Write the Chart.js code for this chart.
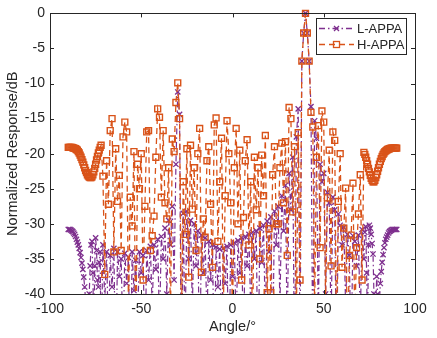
<!DOCTYPE html>
<html>
<head>
<meta charset="utf-8">
<script src="https://cdn.jsdelivr.net/npm/chart.js@4.4.1/dist/chart.umd.min.js"></script>
<style>
  html, body { margin: 0; padding: 0; background: #fff; }
  #wrap { width: 437px; height: 338px; }
</style>
</head>
<body>
<div id="wrap"><canvas id="pattern" width="437" height="338"></canvas></div>
<script>
// ********** DATA ***********
// scan angle in degrees: half degree steps near endfire, one degree in the middle
let angles = [
  -90, -89.5, -89, -88.5, -88, -87.5, -87, -86.5, -86, -85.5,
  -85, -84.5, -84, -83.5, -83, -82.5, -82, -81.5, -81, -80.5,
  -80, -79.5, -79, -78.5, -78, -77.5, -77, -76.5, -76, -75.5,
  -75, -74.5, -74, -73.5, -73, -72.5, -72,
  -71, -70, -69, -68, -67, -66, -65, -64, -63, -62, -61,
  -60, -59, -58, -57, -56, -55, -54, -53, -52, -51,
  -50, -49, -48, -47, -46, -45, -44, -43, -42, -41,
  -40, -39, -38, -37, -36, -35, -34, -33, -32, -31,
  -30, -29, -28, -27, -26, -25, -24, -23, -22, -21,
  -20, -19, -18, -17, -16, -15, -14, -13, -12, -11,
  -10, -9, -8, -7, -6, -5, -4, -3, -2, -1,
  0, 1, 2, 3, 4, 5, 6, 7, 8, 9,
  10, 11, 12, 13, 14, 15, 16, 17, 18, 19,
  20, 21, 22, 23, 24, 25, 26, 27, 28, 29,
  30, 31, 32, 33, 34, 35, 36, 37, 38, 39,
  40, 41, 42, 43, 44, 45, 46, 47, 48, 49,
  50, 51, 52, 53, 54, 55, 56, 57, 58, 59,
  60, 61, 62, 63, 64, 65, 66, 67, 68, 69,
  70, 71,
  72, 72.5, 73, 73.5, 74, 74.5, 75, 75.5, 76, 76.5,
  77, 77.5, 78, 78.5, 79, 79.5, 80, 80.5, 81, 81.5,
  82, 82.5, 83, 83.5, 84, 84.5, 85, 85.5, 86, 86.5,
  87, 87.5, 88, 88.5, 89, 89.5, 90
];

// L-APPA response (dB)
let lAppa = [
  -30.8, -30.8, -30.8, -30.9, -31.0, -31.1, -31.3, -31.5, -31.8, -32.2,
  -32.6, -33.0, -33.5, -34.1, -34.8, -35.6, -36.5, -37.6, -39.0, -41,
  -45, -49, -52, -40, -36, -33, -32.5, -37, -48, -36,
  -32, -33.8, -38, -39, -35.5, -34, -50,
  -33, -41, -34, -46, -34.5, -39, -33.5, -52, -34, -37.5, -35,
  -47, -34.2, -38.5, -34.8, -55, -34, -39.5, -35.2, -44, -34,
  -37, -34.5, -49, -33.8, -38, -33.2, -42, -33, -36.5, -32.2,
  -45, -31.8, -35, -30.6, -40, -29.5, -33, -27.5, -38, -21.5,
  -11.2, -14.4, -55, -28.5, -46, -28.2, -35, -29.5, -42, -30,
  -36, -31, -51, -31.6, -37, -32, -44, -32.5, -38, -33,
  -50, -33.3, -39, -33.6, -46, -33.5, -38.5, -33.2, -53, -33,
  -37.5, -32.7, -45, -32.4, -37, -32, -48, -31.8, -36, -31.5,
  -43, -31.2, -35, -31, -52, -30.6, -35.5, -30.2, -44, -29.6,
  -34, -29, -49, -28.2, -33, -27.5, -42, -26, -31, -24.5,
  -47, -22.8, -28, -20.5, -52, -17.6, -13.6, -48, -6.8, -2.8,
  0, -2.8, -6.8, -13.3, -50, -15.3, -17.8, -45, -21.5, -24,
  -22.8, -40, -25.5, -27, -45, -26.2, -28, -52, -28.6, -30.2,
  -33, -30.5, -42, -31.5, -34.5, -49, -31.7, -32.5, -36, -31.6,
  -44, -30.8,
  -35, -31.2, -30.4, -37, -46, -33, -30.2, -30.6, -31.5, -32.8,
  -34.3, -40, -56, -42, -37.5, -40, -45, -41, -38.5, -36.8,
  -35.5, -34.4, -33.4, -32.7, -32.2, -31.9, -31.6, -31.3, -31.1, -31.0,
  -30.9, -30.8, -30.8, -30.8, -30.8, -30.8, -30.8
];

// H-APPA response (dB)
let hAppa = [
  -19.1, -19.1, -19.1, -19.1, -19.1, -19.15, -19.2, -19.25, -19.3, -19.4,
  -19.5, -19.7, -19.9, -20.2, -20.5, -20.85, -21.2, -21.6, -22.0, -22.4,
  -22.7, -23.0, -23.2, -23.35, -23.4, -23.4, -23.3, -23.0, -22.6, -22.1,
  -21.5, -20.9, -20.4, -19.9, -19.5, -19.1, -18.8,
  -23.2, -37.2, -21, -27.2, -16.7, -15, -34, -19.3, -26.8, -23.1, -33.8,
  -17.6, -15.5, -16.9, -42, -26.2, -30.3, -19.7, -47, -21.5, -25,
  -20, -38, -27.5, -16.9, -16.7, -33.8, -31.7, -28.9, -20.5, -13.6,
  -14.8, -26.2, -16.7, -27, -29.3, -22, -44, -17.9, -19.7, -12.7,
  -9.9, -15, -45, -24, -31.5, -19.3, -37.6, -18.8, -27.9, -22,
  -33.8, -20, -16.4, -36.9, -29.3, -31.9, -21, -19, -27.2, -36.2,
  -15.9, -14.9, -32.5, -24, -17.8, -42, -26, -15.3, -20, -27,
  -44, -22, -16.4, -30, -19.5, -38, -29.1, -21, -18, -33,
  -24, -47, -20.5, -28, -22, -35, -20.2, -26, -17.4, -39.8,
  -30.7, -39.8, -23, -19, -30, -30, -22, -18.5, -27, -18.3,
  -34.5, -13.4, -15, -28.3, -19, -44, -17, -38, -6.8, -2.8,
  0, -2.8, -6.8, -14.1, -16.2, -42, -20.5, -16, -33.4, -13.9,
  -15.5, -41, -26.3, -19.5, -36, -16.9, -18.1, -46, -26.8, -20,
  -36.2, -30.6, -24.9, -50, -34.5, -31.6, -24.2, -44, -33.4, -28.6,
  -23, -38,
  -19.8, -20.1, -20.5, -21.0, -21.5, -22.1, -22.6, -23.1, -23.5, -23.8,
  -24, -24, -23.8, -23.4, -23, -22.5, -22, -21.5, -21.1, -20.7,
  -20.4, -20.1, -19.9, -19.7, -19.6, -19.5, -19.4, -19.35, -19.3, -19.25,
  -19.2, -19.2, -19.2, -19.2, -19.2, -19.2, -19.2
];

let seriesNames = ['L-APPA', 'H-APPA'];
let xTicks = [-100, -50, 0, 50, 100];
let yTicks = [-40, -35, -30, -25, -20, -15, -10, -5, 0];

// ********** STYLE ***********
const PURPLE = '#7E2F8E';
const ORANGE = '#D95319';
const AXIS = '#262626';
const FONT = "'Liberation Sans', Arial, Helvetica, sans-serif";
const L_DASH = [6, 3, 1.5, 3];
const H_DASH = [6, 4];

function toPoints(ys) {
  return angles.map((a, i) => ({ x: a, y: ys[i] }));
}

// inward ticks on all four sides plus the box, drawn over the data
const axesBox = {
  id: 'axesBox',
  afterDatasetsDraw(chart) {
    const { ctx, chartArea: a, scales } = chart;
    const len = 4;
    ctx.save();
    ctx.strokeStyle = AXIS;
    ctx.lineWidth = 1;
    ctx.beginPath();
    xTicks.forEach(v => {
      const px = Math.round(scales.x.getPixelForValue(v)) + 0.5;
      ctx.moveTo(px, a.bottom); ctx.lineTo(px, a.bottom - len);
      ctx.moveTo(px, a.top); ctx.lineTo(px, a.top + len);
    });
    yTicks.forEach(v => {
      const py = Math.round(scales.y.getPixelForValue(v)) + 0.5;
      ctx.moveTo(a.left, py); ctx.lineTo(a.left + len, py);
      ctx.moveTo(a.right, py); ctx.lineTo(a.right - len, py);
    });
    ctx.stroke();
    ctx.strokeRect(Math.round(a.left) + 0.5, Math.round(a.top) + 0.5,
      Math.round(a.right - a.left), Math.round(a.bottom - a.top));
    ctx.restore();
  }
};

// legend box in the top right corner
function drawCross(ctx, x, y, r) {
  ctx.beginPath();
  ctx.moveTo(x - r, y - r); ctx.lineTo(x + r, y + r);
  ctx.moveTo(x - r, y + r); ctx.lineTo(x + r, y - r);
  ctx.stroke();
}

const legendBox = {
  id: 'legendBox',
  afterDraw(chart) {
    const ctx = chart.ctx;
    const left = 316, top = 18, w = 90, h = 36;
    ctx.save();
    ctx.fillStyle = '#fff';
    ctx.fillRect(left, top, w, h);
    ctx.strokeStyle = AXIS;
    ctx.lineWidth = 1;
    ctx.strokeRect(left + 0.5, top + 0.5, w, h);

    const rows = [
      { y: 28.5, color: PURPLE, dash: L_DASH, mark: 'x' },
      { y: 44.5, color: ORANGE, dash: H_DASH, mark: 'sq' }
    ];
    rows.forEach((r, i) => {
      ctx.strokeStyle = r.color;
      ctx.lineWidth = 1.3;
      ctx.setLineDash(r.dash);
      ctx.beginPath();
      ctx.moveTo(319, r.y); ctx.lineTo(354, r.y);
      ctx.stroke();
      ctx.setLineDash([]);
      if (r.mark === 'x') {
        drawCross(ctx, 336.5, r.y, 2.5);
      } else {
        ctx.strokeRect(333.5, r.y - 3, 6, 6);
      }
      ctx.fillStyle = AXIS;
      ctx.font = '13px ' + FONT;
      ctx.textBaseline = 'middle';
      ctx.fillText(seriesNames[i], 357, r.y + 0.5);
    });
    ctx.restore();
  }
};

// ********** CHART ***********
let ctx = document.getElementById('pattern').getContext('2d');
let chart = new Chart(ctx, {
  type: 'line',
  data: {
    datasets: [
      {
        label: seriesNames[0],
        data: toPoints(lAppa),
        borderColor: PURPLE,
        borderWidth: 1.2,
        borderDash: L_DASH,
        pointStyle: 'crossRot',
        pointRadius: 3.7,
        pointBorderColor: PURPLE,
        pointBorderWidth: 1.3,
        tension: 0,
        order: 2,
        clip: { left: 5, top: 5, right: 5, bottom: 0 }
      },
      {
        label: seriesNames[1],
        data: toPoints(hAppa),
        borderColor: ORANGE,
        borderWidth: 1.3,
        borderDash: H_DASH,
        pointStyle: 'rect',
        pointRadius: 4.2,
        pointBorderColor: ORANGE,
        pointBackgroundColor: 'rgba(0,0,0,0)',
        pointBorderWidth: 1.4,
        tension: 0,
        order: 1,
        clip: { left: 5, top: 5, right: 5, bottom: 0 }
      }
    ]
  },
  options: {
    responsive: false,
    animation: false,
    devicePixelRatio: 1,
    layout: { padding: { top: 10, right: 22, left: 0, bottom: 0 } },
    plugins: {
      legend: { display: false },
      tooltip: { enabled: false }
    },
    scales: {
      x: {
        type: 'linear',
        min: -100,
        max: 100,
        afterBuildTicks: s => { s.ticks = xTicks.map(v => ({ value: v })); },
        afterFit: s => { s.height = 44; },
        grid: { display: false, drawTicks: false },
        border: { display: false },
        ticks: { color: AXIS, font: { family: FONT, size: 14 }, padding: 7, maxRotation: 0 },
        title: {
          display: true, text: 'Angle/°', color: AXIS,
          font: { family: FONT, size: 14.5 }, padding: { top: 0, bottom: 2 }
        }
      },
      y: {
        type: 'linear',
        min: -40,
        max: 0,
        afterBuildTicks: s => { s.ticks = yTicks.map(v => ({ value: v })); },
        afterFit: s => { s.width = 50; },
        grid: { display: false, drawTicks: false },
        border: { display: false },
        ticks: { color: AXIS, font: { family: FONT, size: 14 }, padding: 5 },
        title: {
          display: true, text: 'Normalized Response/dB', color: AXIS,
          font: { family: FONT, size: 14.5 }, padding: { top: 4, bottom: 0 }
        }
      }
    }
  },
  plugins: [axesBox, legendBox]
});
</script>
</body>
</html>
